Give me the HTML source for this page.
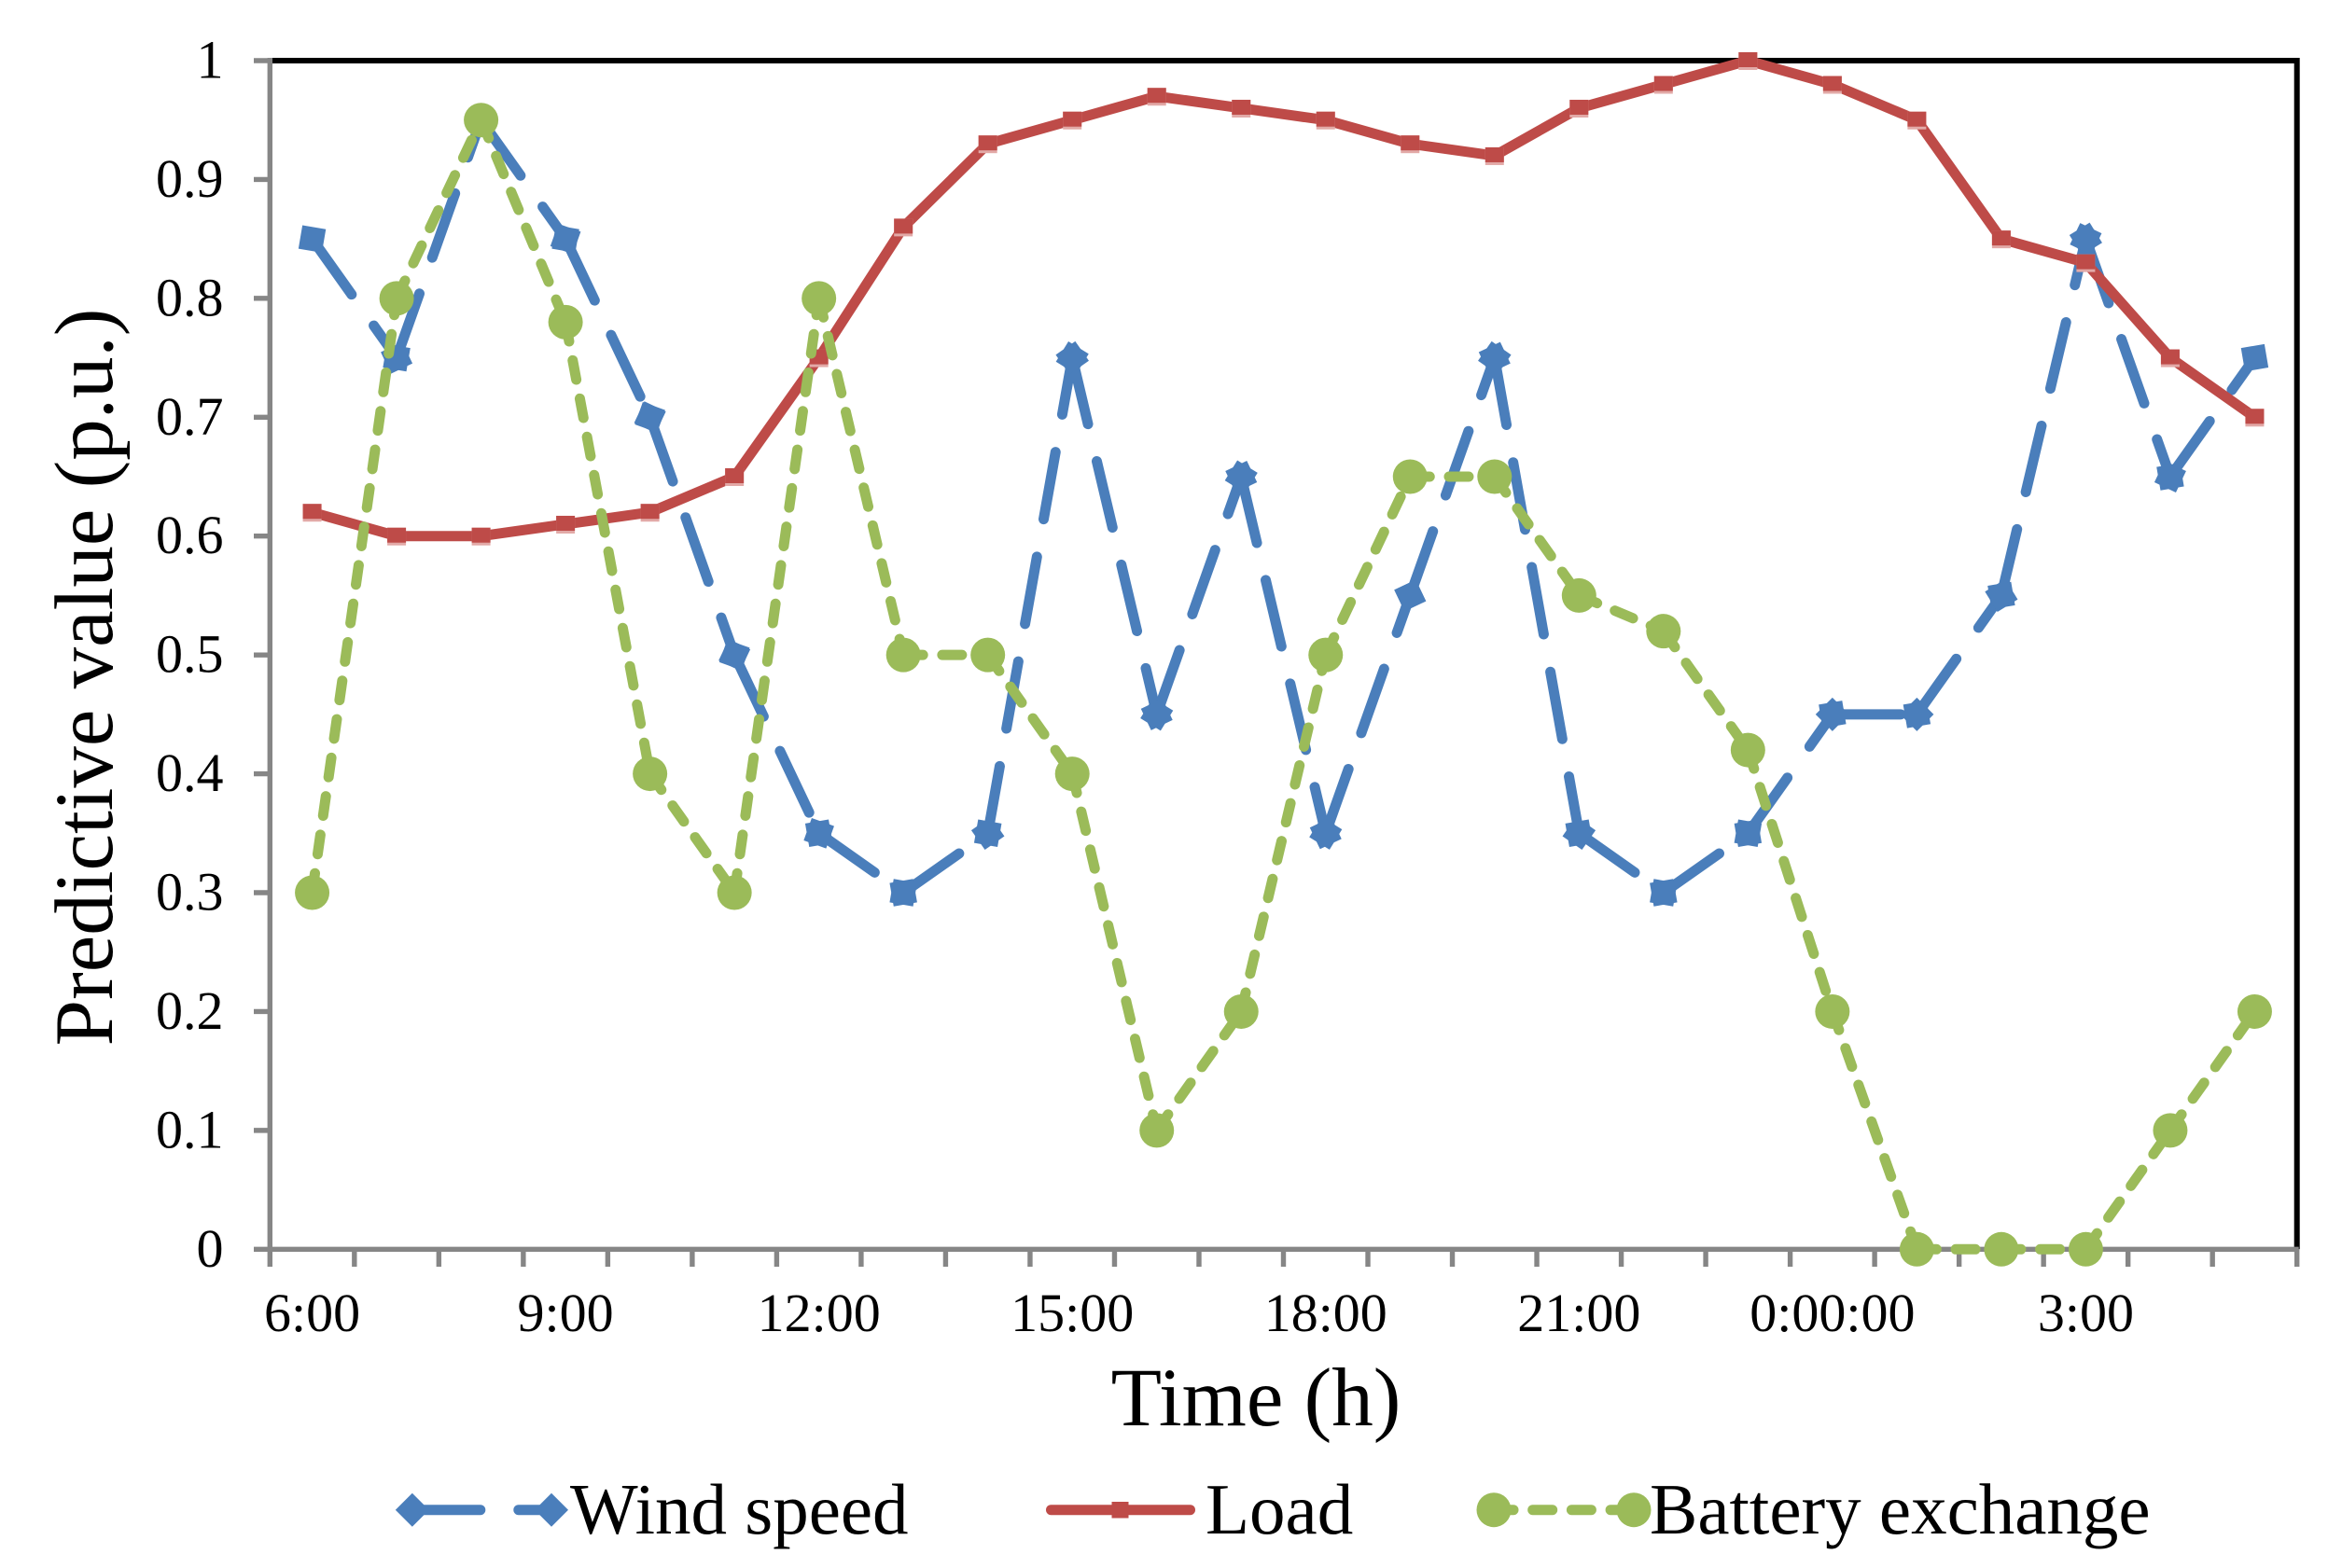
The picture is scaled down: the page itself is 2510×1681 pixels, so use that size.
<!DOCTYPE html>
<html lang="en">
<head>
<meta charset="utf-8">
<title>Predictive value chart</title>
<style>
  html, body { margin: 0; padding: 0; background: #ffffff; }
  svg { display: block; font-family: "Liberation Serif", serif; fill: #000; }
</style>
</head>
<body>
<svg id="chart" xmlns="http://www.w3.org/2000/svg" width="2510" height="1681" viewBox="0 0 2510 1681">
  <rect x="0" y="0" width="2510" height="1681" fill="#ffffff"></rect>
  <g id="frame"></g>
  <g id="axes"></g>
  <g id="series"></g>
  <text transform="translate(120 726) rotate(-90)" text-anchor="middle" font-size="89">Predictive value (p.u.)</text>
  <text x="1346" y="1528" text-anchor="middle" font-size="89">Time (h)</text>
  <g>
    <g>
      <line x1="441.8" y1="1618.7" x2="591" y2="1618.7" stroke="#4A7EBB" stroke-width="11" stroke-linecap="round" stroke-dasharray="73 41"></line>
      <path d="M441.8 1600.7 L459.8 1618.7 L441.8 1636.7 L423.8 1618.7 Z" fill="#4A7EBB"></path>
      <path d="M591 1600.7 L609 1618.7 L591 1636.7 L573 1618.7 Z" fill="#4A7EBB"></path>
      <text x="611" y="1644" font-size="77">Wind speed</text>
    </g>
    <g>
      <line x1="1126.5" y1="1618.7" x2="1275.5" y2="1618.7" stroke="#BE4B48" stroke-width="11" stroke-linecap="round"></line>
      <rect x="1191.5" y="1610" width="18" height="17.5" fill="#BE4B48"></rect>
      <text x="1292" y="1644" font-size="77">Load</text>
    </g>
    <g>
      <line x1="1601" y1="1618.7" x2="1751" y2="1618.7" stroke="#9BBB59" stroke-width="11" stroke-linecap="round" stroke-dasharray="21 20.7"></line>
      <circle cx="1601" cy="1618.7" r="18.5" fill="#9BBB59"></circle>
      <circle cx="1751" cy="1618.7" r="18.5" fill="#9BBB59"></circle>
      <text x="1768" y="1644" font-size="77">Battery exchange</text>
    </g>
  </g>
</svg>
<script>
const categories = ['6:00','7:00','8:00','9:00','10:00','11:00','12:00','13:00','14:00','15:00','16:00','17:00','18:00','19:00','20:00','21:00','22:00','23:00','0:00:00','1:00','2:00','3:00','4:00','5:00'];
const windSpeed = [0.85,0.75,0.95,0.85,0.7,0.5,0.35,0.3,0.35,0.75,0.45,0.65,0.35,0.55,0.75,0.35,0.3,0.35,0.45,0.45,0.55,0.85,0.65,0.75];
const load = [0.62,0.6,0.6,0.61,0.62,0.65,0.75,0.86,0.93,0.95,0.97,0.96,0.95,0.93,0.92,0.96,0.98,1,0.98,0.95,0.85,0.83,0.75,0.7];
const batteryExchange = [0.3,0.8,0.95,0.78,0.4,0.3,0.8,0.5,0.5,0.4,0.1,0.2,0.5,0.65,0.65,0.55,0.52,0.42,0.2,0,0,0,0.1,0.2];
const yTickLabels = ['0','0.1','0.2','0.3','0.4','0.5','0.6','0.7','0.8','0.9','1'];
const xLabelEvery = 3;

const NS = 'http://www.w3.org/2000/svg';
const left = 289.3, right = 2461.7, top_ = 65, bottom = 1339.3;
const catW = (right - left) / categories.length;
function xAxis(i) { return left + catW * (i + 0.5); }
function xEdge(i) { return left + catW * i; }
function yAxis(v) { return bottom - (bottom - top_) * v; }
function make(tag, parent, attrs) {
  const el = document.createElementNS(NS, tag);
  for (const k in attrs) el.setAttribute(k, attrs[k]);
  parent.appendChild(el);
  return el;
}

const frame = document.getElementById('frame');
const axes = document.getElementById('axes');
const series = document.getElementById('series');

const frameLine = make('path', frame, {d: 'M' + left + ' ' + top_ + ' H' + right + ' V' + bottom, fill: 'none', stroke: '#000', 'stroke-width': 6});



const GRAY = '#868686';
const yAxisLine = make('line', axes, {x1: left, y1: top_ - 3, x2: left, y2: bottom, stroke: GRAY, 'stroke-width': 5.4});


const xAxisLine = make('line', axes, {x1: left, y1: bottom, x2: right + 2, y2: bottom, stroke: GRAY, 'stroke-width': 5.4});



yTickLabels.forEach(function (label) {
  const v = parseFloat(label);
  const y = yAxis(v);
  const tick = make('line', axes, {x1: 272, y1: y, x2: left, y2: y, stroke: GRAY, 'stroke-width': 5.4});
  
  
  const t = make('text', axes, {x: 239.5, y: y + 18.5, 'text-anchor': 'end', 'font-size': 58});
  
  
  t.textContent = label;
});

for (let i = 0; i <= categories.length; i++) {
  const x = xEdge(i);
  const tick = make('line', axes, {x1: x, y1: bottom, x2: x, y2: 1358, stroke: GRAY, 'stroke-width': 5.4});
  
  
}
categories.forEach(function (c, i) {
  if (i % xLabelEvery !== 0) return;
  const t = make('text', axes, {x: xAxis(i), y: 1427, 'text-anchor': 'middle', 'font-size': 58});
  
  
  t.textContent = c;
});

function dashedSegments(values, name, color, width, dash) {
  const g = make('g', series, {});
  
  
  for (let i = 0; i < values.length - 1; i++) {
    const seg = make('line', g, {
      x1: xAxis(i), y1: yAxis(values[i]), x2: xAxis(i + 1), y2: yAxis(values[i + 1]),
      stroke: color, 'stroke-width': width, 'stroke-linecap': 'round', 'stroke-dasharray': dash
    });
    
    
  }
}

/* Wind speed */
dashedSegments(windSpeed, 'wind-speed', '#4A7EBB', 11, '73 41');
const windMarkers = make('g', series, {});


function windSquare(i, j) {
  const dx = xAxis(j) - xAxis(i), dy = yAxis(windSpeed[j]) - yAxis(windSpeed[i]);
  const angle = Math.atan2(dy, dx) * 180 / Math.PI + 45;
  const s = 25.5;
  const r = make('rect', windMarkers, {
    x: -s / 2, y: -s / 2, width: s, height: s, fill: '#4A7EBB',
    transform: 'translate(' + xAxis(i) + ' ' + yAxis(windSpeed[i]) + ') rotate(' + angle + ')'
  });
  
  
}
windSpeed.forEach(function (v, i) {
  if (i > 0) windSquare(i, i - 1);
  if (i < windSpeed.length - 1) windSquare(i, i + 1);
});

/* Load */
const loadLine = make('polyline', series, {
  points: load.map(function (v, i) { return xAxis(i) + ',' + yAxis(v); }).join(' '),
  fill: 'none', stroke: '#BE4B48', 'stroke-width': 11, 'stroke-linejoin': 'round', 'stroke-linecap': 'round'
});


load.forEach(function (v, i) {
  const g = make('g', series, {});
  
  
  make('rect', g, {x: xAxis(i) - 10, y: yAxis(v) - 9, width: 20, height: 19, fill: '#E2A9A7'});
  make('rect', g, {x: xAxis(i) - 10, y: yAxis(v) - 9, width: 20, height: 16, fill: '#BE4B48'});
});

/* Battery exchange */
dashedSegments(batteryExchange, 'battery-exchange', '#9BBB59', 11, '21 20.7');
batteryExchange.forEach(function (v, i) {
  const c = make('circle', series, {cx: xAxis(i), cy: yAxis(v), r: 18.5, fill: '#9BBB59'});
  
  
});
</script>
</body>
</html>
